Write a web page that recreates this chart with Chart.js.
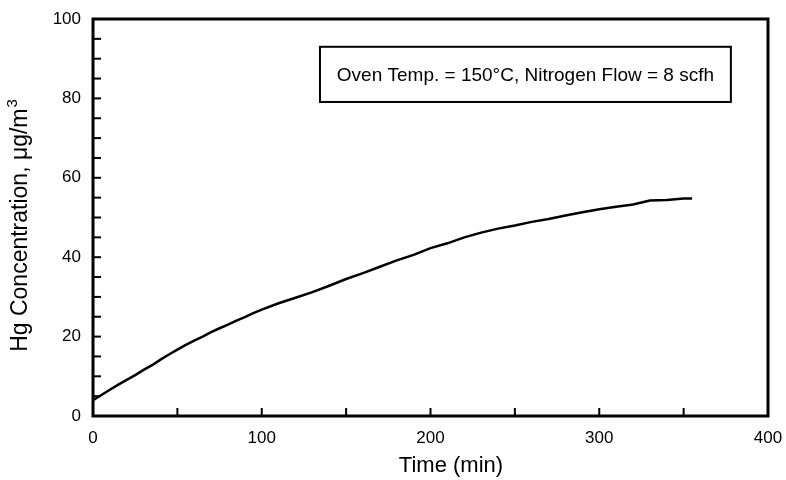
<!DOCTYPE html>
<html>
<head>
<meta charset="utf-8">
<script src="https://cdn.jsdelivr.net/npm/chart.js@4.4.0/dist/chart.umd.min.js"></script>
<style>
  html, body { margin: 0; padding: 0; background: #fff; }
  #wrap { width: 786px; height: 480px; }
</style>
</head>
<body>
<div id="wrap"><canvas id="myChart" width="786" height="480"></canvas></div>
<script>
// values
const timeMin = [0, 5, 10, 15, 20, 25, 30, 35, 40, 45, 50, 55, 60, 65, 70, 75, 80, 85, 90, 95,
    100, 110, 120, 130, 140, 150, 160, 170, 180, 190, 200, 210, 220, 230, 240, 250,
    260, 270, 280, 290, 300, 310, 320, 330, 340, 350, 355];
const hgConc = [4.0, 5.3, 6.6, 7.9, 9.1, 10.3, 11.6, 12.8, 14.2, 15.5, 16.7, 17.9, 19.0, 20.0, 21.1, 22.1, 23.0, 24.0, 24.9, 25.9,
    26.8, 28.4, 29.8, 31.2, 32.8, 34.5, 36.0, 37.6, 39.2, 40.6, 42.3, 43.5, 45.0, 46.2, 47.2, 48.0,
    48.9, 49.6, 50.5, 51.3, 52.1, 52.7, 53.3, 54.3, 54.4, 54.8, 54.8];
const xLabels = [0, 100, 200, 300, 400];
const yLabels = [0, 20, 40, 60, 80, 100];
const noteText = 'Oven Temp. = 150°C, Nitrogen Flow = 8 scfh';
const xTitle = 'Time (min)';
const yTitle = 'Hg Concentration, μg/m';

const font = 'Liberation Sans, Arial, Helvetica, sans-serif';

// frame, inward ticks, axis titles and the note box
const framePlugin = {
    id: 'frame',
    afterDraw(chart) {
        const ctx = chart.ctx;
        const a = chart.chartArea;
        const xs = chart.scales.x;
        const ys = chart.scales.y;
        ctx.save();
        ctx.strokeStyle = '#000';
        ctx.lineWidth = 2;
        xs.ticks.forEach(t => {
            const px = xs.getPixelForValue(t.value);
            ctx.beginPath();
            ctx.moveTo(px, a.bottom);
            ctx.lineTo(px, a.bottom - 8);
            ctx.stroke();
        });
        ys.ticks.forEach(t => {
            const py = ys.getPixelForValue(t.value);
            ctx.beginPath();
            ctx.moveTo(a.left, py);
            ctx.lineTo(a.left + 8, py);
            ctx.stroke();
        });
        ctx.lineWidth = 3;
        ctx.strokeRect(a.left, a.top, a.right - a.left, a.bottom - a.top);

        // annotation box
        const bx = xs.getPixelForValue(134.5), bw = xs.getPixelForValue(378) - bx;
        const by = ys.getPixelForValue(93), bh = ys.getPixelForValue(79.1) - by;
        ctx.fillStyle = '#fff';
        ctx.fillRect(bx, by, bw, bh);
        ctx.lineWidth = 2;
        ctx.strokeRect(bx, by, bw, bh);
        ctx.fillStyle = '#000';
        ctx.font = '19px ' + font;
        ctx.textAlign = 'center';
        ctx.textBaseline = 'middle';
        ctx.fillText(noteText, bx + bw / 2, by + bh / 2 + 1);

        // x title
        ctx.font = '22px ' + font;
        ctx.fillText(xTitle, 451, 466);

        // y title with superscript 3
        ctx.translate(19, 226);
        ctx.rotate(-Math.PI / 2);
        ctx.font = '23px ' + font;
        const w1 = ctx.measureText(yTitle).width;
        ctx.font = '15px ' + font;
        const w2 = ctx.measureText('3').width;
        const x0 = -(w1 + w2) / 2;
        ctx.textAlign = 'left';
        ctx.textBaseline = 'alphabetic';
        ctx.font = '23px ' + font;
        ctx.fillText(yTitle, x0, 8);
        ctx.font = '15px ' + font;
        ctx.fillText('3', x0 + w1 + 1, -2);
        ctx.restore();
    }
};

const ctx = document.getElementById('myChart').getContext('2d');
let myChart = new Chart(ctx, {
    type: 'line',
    data: {
        datasets: [{
            data: timeMin.map((t, i) => ({ x: t, y: hgConc[i] })),
            borderColor: '#000',
            borderWidth: 2.5,
            pointRadius: 0,
            tension: 0,
            fill: false,
        }]
    },
    options: {
        responsive: false,
        animation: false,
        layout: { padding: { top: 19, right: 18, left: 0, bottom: 0 } },
        plugins: {
            legend: { display: false },
            tooltip: { enabled: false },
        },
        scales: {
            x: {
                type: 'linear',
                min: 0,
                max: 400,
                border: { display: false },
                grid: { display: false, drawTicks: false },
                ticks: {
                    stepSize: 50,
                    color: '#000',
                    padding: 12,
                    maxRotation: 0,
                    autoSkip: false,
                    font: { family: font, size: 17 },
                    callback: v => xLabels.includes(v) ? String(v) : '',
                },
                afterFit: s => {
                    s.height = 64;
                    s.paddingLeft = 0;
                    s.paddingRight = 0;
                },
            },
            y: {
                min: 0,
                max: 100,
                border: { display: false },
                grid: { display: false, drawTicks: false },
                ticks: {
                    stepSize: 5,
                    color: '#000',
                    padding: 12,
                    autoSkip: false,
                    font: { family: font, size: 17 },
                    callback: v => yLabels.includes(v) ? String(v) : '',
                },
                afterFit: s => {
                    s.width = 93;
                    s.paddingTop = 0;
                    s.paddingBottom = 0;
                },
            }
        }
    },
    plugins: [framePlugin]
});
</script>
</body>
</html>
